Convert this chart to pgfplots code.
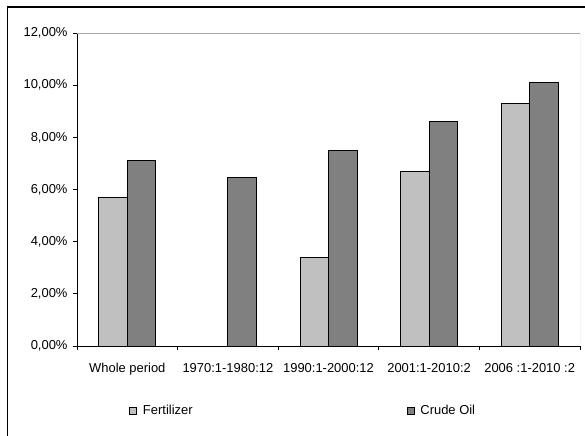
\documentclass[border=0pt]{standalone}
\usepackage{fontspec}
\setmainfont{Liberation Sans}
\usepackage{pgfplots}
\pgfplotsset{compat=1.18}
\definecolor{fert}{HTML}{C0C0C0}
\definecolor{oil}{HTML}{808080}
\begin{document}
\begin{tikzpicture}
\begin{axis}[
  at={(0,0)}, anchor=south west,
  scale only axis, width=503bp, height=313bp,
  ybar=0pt, bar width=0.283,
  xmin=-0.5, xmax=4.5, ymin=0, ymax=12,
  axis x line*=bottom, axis y line*=left,
  axis line style={black, line width=0.9bp},
  xtick={-0.5,0.5,1.5,2.5,3.5,4.5},
  x tick label as interval,
  xticklabels={Whole period, 1970:1-1980:12, 1990:1-2000:12, 2001:1-2010:2, 2006 :1-2010 :2},
  ytick={0,2,4,6,8,10,12},
  yticklabels={{0,00\%},{2,00\%},{4,00\%},{6,00\%},{8,00\%},{10,00\%},{12,00\%}},
  tick align=outside, major tick length=4bp,
  tick style={black, line width=0.9bp},
  ticklabel style={font=\fontsize{13}{15}\selectfont},
  yticklabel style={xshift=-2bp},
  xticklabel style={yshift=-10bp},
  legend columns=2,
  legend style={draw=none, fill=none, inner sep=0pt,
    font=\fontsize{13}{15}\selectfont,
    at={(axis description cs:0.1034,-0.2077)}, anchor=west,
    /tikz/every even column/.append style={column sep=212bp}},
  legend image code/.code={\draw[#1,draw=black,line width=0.8bp] (0bp,-3.5bp) rectangle (7bp,3.5bp);
    \path (11bp,0bp);},
]
\addplot[fill=fert, draw=black, line width=0.8bp] coordinates {(0,5.7) (2,3.4) (3,6.7) (4,9.3)};
\addplot[fill=oil, draw=black, line width=0.8bp] coordinates {(0,7.1) (1,6.45) (2,7.5) (3,8.6) (4,10.1)};
\legend{Fertilizer, Crude Oil}
\draw[gray!70, line width=0.9bp] (rel axis cs:0,1) -- (rel axis cs:1,1) -- (rel axis cs:1,0);
\end{axis}
\draw[line width=1.5bp] (-69.5bp,-90bp) -- (-69.5bp,339bp) -- (508bp,339bp);
\pgfresetboundingbox
\path[use as bounding box] (-77bp,-90bp) rectangle (508bp,346bp);
\end{tikzpicture}
\end{document}
